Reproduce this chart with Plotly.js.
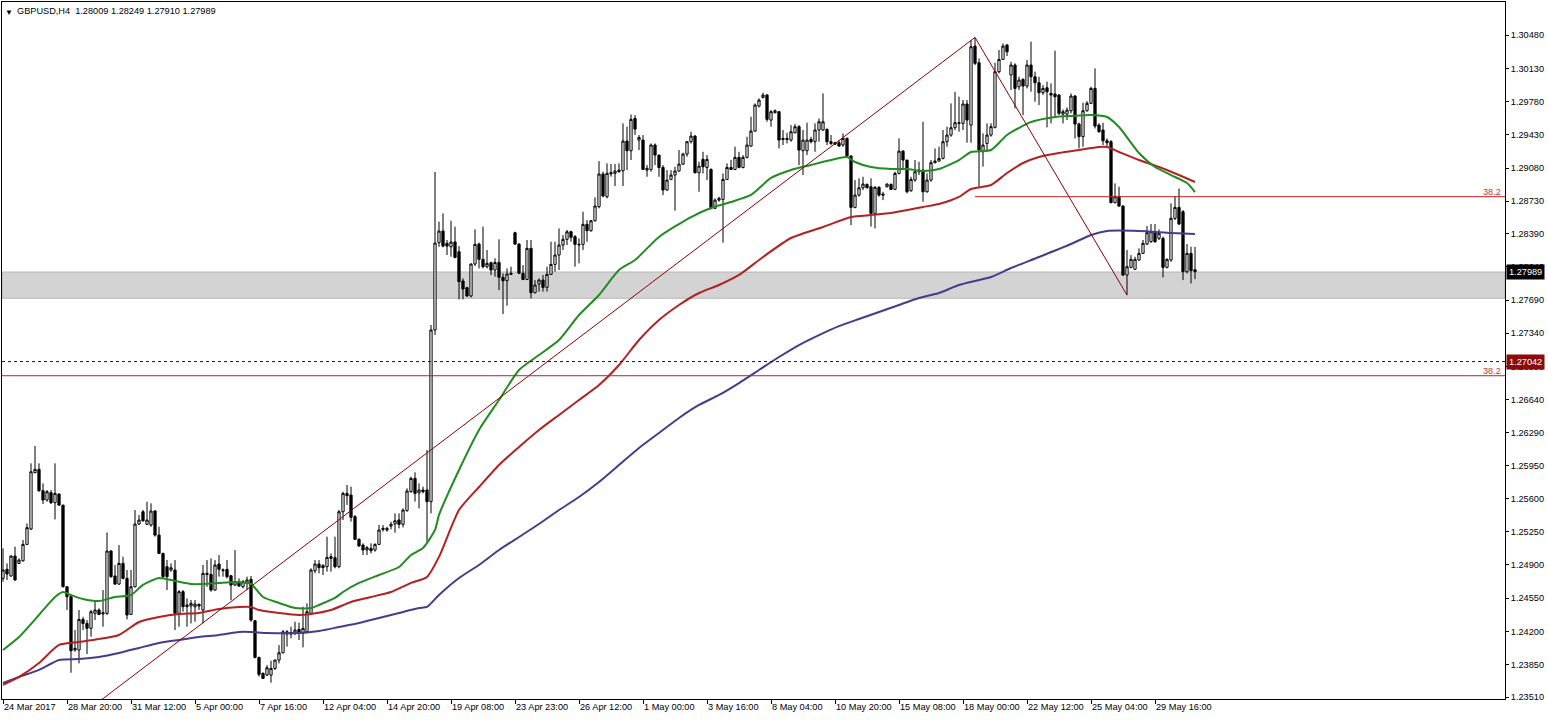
<!DOCTYPE html>
<html><head><meta charset="utf-8">
<script src="https://cdn.plot.ly/plotly-3.0.1.min.js"></script>
<style>html,body{margin:0;padding:0;background:#fff;}#chart{width:1548px;height:720px;}</style>
</head><body><div id="chart"></div>
<script>
const symbolTitle = "GBPUSD,H4\u00a0\u00a01.28009 1.28249 1.27910 1.27989";

const openP = [
1.24759,1.24854,1.24784,1.24994,1.24917,1.24945,1.25117,1.25279,1.25872,1.25907,
1.25682,1.25584,1.25661,1.25556,1.25647,1.25531,1.24671,1.24566,1.24005,1.24005,
1.24327,1.24285,1.24233,1.24391,1.24426,1.24384,1.24391,1.25047,1.24784,1.24699,
1.24917,1.24759,1.24380,1.24671,1.25331,1.25461,1.25328,1.25321,1.25468,1.25215,
1.25022,1.24882,1.24847,1.24847,1.24391,1.24619,1.24461,1.24468,1.24461,1.24485,
1.24426,1.24812,1.24801,1.24636,1.24910,1.24840,1.24854,1.24787,1.24689,1.24724,
1.24671,1.24706,1.24749,1.24313,1.23927,1.23759,1.23741,1.23741,1.23811,1.23899,
1.23976,1.24173,1.24190,1.24180,1.24222,1.24180,1.24198,1.24391,1.24840,1.24910,
1.24893,1.24882,1.24987,1.24977,1.24882,1.25461,1.25654,1.25637,1.25409,1.25170,
1.25110,1.25058,1.25075,1.25058,1.25117,1.25286,1.25268,1.25310,1.25331,1.25374,
1.25328,1.25472,1.25672,1.25812,1.25661,1.25690,1.25690,1.25567,1.27374,1.28294,
1.28416,1.28287,1.28251,1.28301,1.28199,1.27890,1.27820,1.27732,1.28069,1.28279,
1.28118,1.28041,1.28083,1.28006,1.28086,1.27929,1.27893,1.27960,1.28399,1.28279,
1.27971,1.27907,1.28234,1.27767,1.27858,1.27900,1.27823,1.27960,1.28065,1.28164,
1.28269,1.28329,1.28409,1.28357,1.28269,1.28276,1.28487,1.28420,1.28525,1.28673,
1.29017,1.28778,1.29017,1.29024,1.29041,1.29051,1.29364,1.29262,1.29602,1.29374,
1.29374,1.29058,1.29065,1.29322,1.29216,1.29086,1.28848,1.28960,1.29006,1.29048,
1.29121,1.29227,1.29357,1.29416,1.29030,1.29171,1.29086,1.29065,1.28655,1.28742,
1.28749,1.28960,1.29086,1.29065,1.29192,1.29086,1.29192,1.29311,1.29469,1.29732,
1.29823,1.29848,1.29585,1.29662,1.29673,1.29392,1.29392,1.29374,1.29451,1.29515,
1.29262,1.29262,1.29381,1.29357,1.29480,1.29480,1.29487,1.29357,1.29346,1.29346,
1.29322,1.29392,1.29206,1.28665,1.28795,1.28872,1.28907,1.28883,1.28602,1.28876,
1.28806,1.28883,1.28907,1.28855,1.29023,1.29258,1.29164,1.28841,1.28953,1.29041,
1.29058,1.28830,1.28953,1.29136,1.29153,1.29181,1.29357,1.29427,1.29504,1.29557,
1.29550,1.29754,1.29532,1.30364,1.30189,1.29252,1.29339,1.29427,1.29508,1.30094,
1.30224,1.30375,1.30059,1.30164,1.29936,1.30013,1.29943,1.30164,1.30041,1.29978,
1.29873,1.29925,1.29866,1.29859,1.29848,1.29648,1.29648,1.29683,1.29838,1.29543,
1.29410,1.29683,1.29761,1.29918,1.29532,1.29480,1.29367,1.29357,1.28715,1.28778,
1.28679,1.27953,1.28034,1.28013,1.28111,1.28181,1.28279,1.28304,1.28409,1.28339,
1.28339,1.28034,1.28111,1.28550,1.28665,1.28620,1.27988,1.28181,1.28009];

const highP = [
1.25075,1.24917,1.25005,1.25093,1.24970,1.25163,1.25338,1.25970,1.26153,1.25970,
1.25759,1.25689,1.25689,1.25970,1.25654,1.25531,1.24678,1.24584,1.24215,1.24426,
1.24355,1.24320,1.24426,1.24531,1.24443,1.24636,1.25243,1.25057,1.24900,1.25110,
1.24987,1.24847,1.24847,1.25479,1.25426,1.25479,1.25566,1.25549,1.25479,1.25303,
1.25029,1.24952,1.24917,1.24952,1.24636,1.24636,1.24548,1.24531,1.24531,1.24496,
1.24900,1.24952,1.24970,1.24952,1.25005,1.24864,1.24952,1.24794,1.25057,1.24759,
1.24742,1.24777,1.24784,1.24320,1.23934,1.23769,1.23846,1.23892,1.23906,1.24057,
1.24215,1.24215,1.24250,1.24303,1.24293,1.24461,1.24496,1.24865,1.24952,1.24952,
1.24910,1.25198,1.25022,1.25198,1.25479,1.25672,1.25742,1.25725,1.25426,1.25181,
1.25128,1.25100,1.25128,1.25128,1.25321,1.25321,1.25303,1.25356,1.25444,1.25444,
1.25496,1.25707,1.25830,1.25876,1.25760,1.25725,1.26111,1.27427,1.29038,1.28515,
1.28602,1.28322,1.28525,1.28462,1.28258,1.27918,1.27830,1.28076,1.28434,1.28294,
1.28462,1.28216,1.28093,1.28129,1.28329,1.27971,1.28023,1.28041,1.28409,1.28287,
1.28058,1.28322,1.28322,1.27900,1.27918,1.27953,1.28041,1.28304,1.28304,1.28444,
1.28374,1.28427,1.28420,1.28374,1.28339,1.28620,1.28532,1.28532,1.28771,1.29153,
1.29041,1.29129,1.29122,1.29122,1.29129,1.29550,1.29515,1.29644,1.29637,1.29427,
1.29427,1.29111,1.29339,1.29339,1.29216,1.29111,1.29058,1.29058,1.29093,1.29269,
1.29241,1.29364,1.29462,1.29427,1.29146,1.29251,1.29216,1.29076,1.28760,1.28778,
1.29023,1.29129,1.29164,1.29304,1.29251,1.29216,1.29409,1.29620,1.29760,1.29813,
1.29873,1.29859,1.29690,1.29697,1.29680,1.29480,1.29451,1.29532,1.29543,1.29532,
1.29480,1.29557,1.29409,1.29550,1.29602,1.29866,1.29497,1.29427,1.29357,1.29374,
1.29444,1.29402,1.29216,1.28953,1.28971,1.28988,1.28918,1.28971,1.28890,1.28890,
1.28830,1.28918,1.28918,1.29041,1.29392,1.29269,1.29164,1.28988,1.29164,1.29146,
1.29567,1.29023,1.29164,1.29286,1.29304,1.29480,1.29515,1.29760,1.29883,1.29831,
1.29796,1.29796,1.30427,1.30455,1.30234,1.29445,1.29550,1.29550,1.30189,1.30322,
1.30392,1.30385,1.30199,1.30182,1.30041,1.30024,1.30217,1.30410,1.30094,1.30041,
1.29954,1.29989,1.29971,1.30315,1.29859,1.29697,1.29718,1.29866,1.29848,1.29557,
1.29768,1.29785,1.29936,1.30129,1.29550,1.29557,1.29392,1.29374,1.28918,1.28883,
1.28690,1.28216,1.28163,1.28146,1.28234,1.28322,1.28469,1.28490,1.28490,1.28434,
1.28357,1.28128,1.28708,1.28785,1.28865,1.28637,1.28279,1.28251,1.28249];

const lowP = [
1.24724,1.24742,1.24777,1.24735,1.24910,1.24935,1.25110,1.25268,1.25865,1.25672,
1.25542,1.25566,1.25542,1.25380,1.25521,1.24664,1.24426,1.23766,1.23987,1.23864,
1.24215,1.23962,1.24145,1.24320,1.24373,1.24250,1.24373,1.24766,1.24689,1.24689,
1.24749,1.24327,1.24373,1.24664,1.25321,1.25356,1.25321,1.25303,1.25198,1.25015,
1.24759,1.24636,1.24829,1.24215,1.24250,1.24408,1.24250,1.24285,1.24303,1.24426,
1.24285,1.24671,1.24619,1.24629,1.24777,1.24777,1.24759,1.24531,1.24678,1.24671,
1.24654,1.24636,1.24303,1.23917,1.23724,1.23706,1.23731,1.23660,1.23794,1.23864,
1.23969,1.24040,1.24127,1.24162,1.24110,1.24033,1.24180,1.24373,1.24812,1.24812,
1.24794,1.24830,1.24830,1.24865,1.24865,1.25374,1.25532,1.25356,1.25163,1.25093,
1.25005,1.25005,1.25022,1.25040,1.25110,1.25251,1.25251,1.25275,1.25240,1.25286,
1.25296,1.25461,1.25661,1.25567,1.25496,1.25654,1.25145,1.25444,1.27321,1.28251,
1.28244,1.28164,1.28146,1.28129,1.27697,1.27697,1.27725,1.27718,1.28048,1.28023,
1.28023,1.28023,1.27953,1.27936,1.27795,1.27542,1.27630,1.27953,1.28269,1.27964,
1.27900,1.27900,1.27707,1.27760,1.27778,1.27778,1.27778,1.27953,1.27988,1.28006,
1.28216,1.28269,1.28304,1.28041,1.28076,1.28216,1.28304,1.28409,1.28515,1.28655,
1.28771,1.28760,1.28989,1.28890,1.29030,1.28890,1.29058,1.29164,1.29427,1.29269,
1.29058,1.28988,1.29041,1.29111,1.28988,1.28795,1.28841,1.28953,1.28630,1.29041,
1.29111,1.29199,1.29339,1.29023,1.28830,1.29023,1.28953,1.28644,1.28655,1.28725,
1.28293,1.28953,1.29058,1.29058,1.29076,1.29076,1.29181,1.29304,1.29462,1.29718,
1.29813,1.29567,1.29515,1.29655,1.29286,1.29322,1.29339,1.29357,1.29444,1.29111,
1.29006,1.29216,1.29339,1.29251,1.29357,1.29472,1.29322,1.29322,1.29322,1.29304,
1.29304,1.29199,1.28479,1.28655,1.28778,1.28848,1.28865,1.28462,1.28444,1.28778,
1.28742,1.28876,1.28848,1.28848,1.29013,1.29076,1.28813,1.28830,1.28935,1.29006,
1.28725,1.28820,1.28935,1.29129,1.29146,1.29171,1.29304,1.29409,1.29480,1.29462,
1.29480,1.29346,1.29346,1.30164,1.28883,1.29094,1.29252,1.29410,1.29497,1.30076,
1.30217,1.30259,1.29901,1.29708,1.29901,1.29638,1.29918,1.29883,1.29778,1.29743,
1.29848,1.29508,1.29550,1.29620,1.29638,1.29550,1.29585,1.29655,1.29392,1.29287,
1.29304,1.29673,1.29754,1.29497,1.29452,1.29322,1.29311,1.28708,1.28708,1.28672,
1.27942,1.27742,1.28023,1.28006,1.28104,1.28174,1.28269,1.28293,1.28293,1.28322,
1.27928,1.28023,1.28093,1.28532,1.28479,1.27900,1.27970,1.27865,1.27910];

const closeP = [
1.24847,1.24805,1.24994,1.24742,1.24952,1.25117,1.25293,1.25882,1.25907,1.25682,
1.25584,1.25672,1.25556,1.25654,1.25531,1.24671,1.24566,1.23997,1.24022,1.24327,
1.24285,1.24233,1.24408,1.24426,1.24380,1.24398,1.25047,1.24777,1.24699,1.24917,
1.24759,1.24373,1.24671,1.25331,1.25373,1.25366,1.25373,1.25468,1.25215,1.25022,
1.24777,1.24777,1.24871,1.24391,1.24619,1.24461,1.24478,1.24496,1.24489,1.24468,
1.24812,1.24801,1.24636,1.24900,1.24854,1.24847,1.24777,1.24689,1.24724,1.24678,
1.24724,1.24742,1.24320,1.23927,1.23748,1.23706,1.23818,1.23811,1.23899,1.23976,
1.24197,1.24197,1.24173,1.24215,1.24180,1.24233,1.24408,1.24847,1.24910,1.24872,
1.24872,1.24980,1.24970,1.24882,1.25461,1.25654,1.25630,1.25402,1.25170,1.25100,
1.25058,1.25082,1.25051,1.25117,1.25268,1.25275,1.25286,1.25328,1.25366,1.25328,
1.25479,1.25679,1.25812,1.25654,1.25690,1.25672,1.25567,1.27374,1.28290,1.28416,
1.28258,1.28258,1.28301,1.28139,1.27883,1.27806,1.27732,1.28069,1.28276,1.28118,
1.28041,1.28076,1.28006,1.28086,1.27929,1.27893,1.27964,1.27971,1.28279,1.27971,
1.27907,1.28234,1.27767,1.27848,1.27900,1.27823,1.27960,1.28065,1.28164,1.28269,
1.28329,1.28409,1.28350,1.28276,1.28276,1.28487,1.28420,1.28525,1.28680,1.29017,
1.28785,1.29024,1.29031,1.29048,1.29058,1.29364,1.29262,1.29592,1.29490,1.29402,
1.29065,1.29076,1.29322,1.29216,1.29086,1.28848,1.28953,1.29006,1.29048,1.29121,
1.29227,1.29357,1.29416,1.29030,1.29100,1.29093,1.29171,1.28655,1.28742,1.28760,
1.28960,1.29086,1.29065,1.29192,1.29086,1.29192,1.29322,1.29469,1.29743,1.29795,
1.29848,1.29592,1.29673,1.29683,1.29374,1.29381,1.29381,1.29462,1.29515,1.29269,
1.29374,1.29374,1.29357,1.29480,1.29567,1.29567,1.29357,1.29339,1.29332,1.29311,
1.29392,1.29206,1.28665,1.28795,1.28872,1.28911,1.28872,1.28602,1.28876,1.28795,
1.28795,1.28911,1.28855,1.29023,1.29258,1.29164,1.28830,1.28960,1.29041,1.29058,
1.28830,1.28953,1.29136,1.29153,1.29181,1.29357,1.29427,1.29504,1.29557,1.29550,
1.29754,1.29585,1.30357,1.30182,1.29269,1.29322,1.29427,1.29515,1.30094,1.30224,
1.30364,1.30304,1.30164,1.29918,1.30006,1.29943,1.30164,1.30041,1.29978,1.29873,
1.29918,1.29883,1.29848,1.29831,1.29655,1.29673,1.29690,1.29838,1.29543,1.29410,
1.29683,1.29761,1.29918,1.29522,1.29462,1.29367,1.29346,1.28715,1.28778,1.28679,
1.27953,1.28041,1.28118,1.28118,1.28181,1.28287,1.28399,1.28409,1.28304,1.28392,
1.28034,1.28118,1.28550,1.28665,1.28490,1.27988,1.28181,1.27998,1.27989];

// moving averages read at sampled bars (bar index, price)
const maFastIdx = [0,4,9,13,15,17,20,24,28,32,35,39,43,47,50,54,58,62,65,69,73,77,79,83,85,89,94,99,102,105,108,109,114,119,124,129,134,139,144,149,154,158,164,172,177,182,187,192,197,202,207,211,213,217,222,226,230,234,239,242,247,251,257,263,267,272,276,279,284,288,292,296,298];
const maFastVal = [1.24005,1.24142,1.24374,1.24563,1.24616,1.24584,1.24542,1.24521,1.24563,1.24584,1.24690,1.24763,1.24732,1.24700,1.24700,1.24711,1.24721,1.24700,1.24563,1.24500,1.24447,1.24447,1.24479,1.24553,1.24616,1.24711,1.24795,1.24879,1.25005,1.25079,1.25269,1.25427,1.25900,1.26322,1.26637,1.26953,1.27111,1.27269,1.27532,1.27743,1.28006,1.28111,1.28354,1.28564,1.28659,1.28722,1.28796,1.28975,1.29059,1.29112,1.29164,1.29196,1.29143,1.29091,1.29070,1.29070,1.29048,1.29070,1.29164,1.29249,1.29270,1.29428,1.29564,1.29617,1.29628,1.29638,1.29617,1.29512,1.29238,1.29091,1.29006,1.28922,1.28827];
const maMidIdx = [0,4,9,14,19,24,29,34,39,44,49,54,59,62,64,69,74,77,82,87,92,97,102,106,109,114,119,124,129,134,139,144,149,154,159,164,169,174,179,184,190,197,205,212,217,222,230,234,239,242,247,251,255,259,264,269,274,276,279,284,289,294,298];
const maMidVal = [1.23637,1.23721,1.23868,1.24058,1.24089,1.24121,1.24163,1.24300,1.24353,1.24384,1.24395,1.24437,1.24458,1.24458,1.24426,1.24395,1.24374,1.24384,1.24426,1.24511,1.24563,1.24616,1.24711,1.24774,1.24985,1.25479,1.25721,1.25953,1.26143,1.26322,1.26480,1.26637,1.26795,1.27006,1.27269,1.27480,1.27638,1.27764,1.27848,1.27954,1.28143,1.28343,1.28459,1.28564,1.28585,1.28606,1.28670,1.28701,1.28775,1.28859,1.28901,1.29027,1.29133,1.29196,1.29238,1.29270,1.29301,1.29301,1.29249,1.29164,1.29091,1.29006,1.28933];
const maSlowIdx = [0,4,9,14,19,24,29,34,39,44,49,54,59,62,66,74,79,84,89,94,99,104,106,109,114,119,124,129,134,139,144,149,154,159,164,169,174,179,184,189,194,199,204,209,214,219,224,229,234,239,247,252,259,267,272,276,284,292,298];
const maSlowVal = [1.23658,1.23721,1.23795,1.23900,1.23910,1.23932,1.23974,1.24027,1.24079,1.24111,1.24142,1.24163,1.24195,1.24195,1.24184,1.24184,1.24205,1.24247,1.24290,1.24342,1.24395,1.24447,1.24458,1.24584,1.24763,1.24900,1.25058,1.25195,1.25332,1.25479,1.25616,1.25774,1.25953,1.26132,1.26290,1.26448,1.26585,1.26690,1.26816,1.26953,1.27090,1.27216,1.27321,1.27415,1.27490,1.27564,1.27638,1.27711,1.27764,1.27848,1.27933,1.28027,1.28143,1.28280,1.28375,1.28417,1.28417,1.28396,1.28385];

const dateTickIndex = [0,16,32,48,64,80,96,112,128,144,160,176,192,208,224,240,256,272,288];
const dateTickText = ["24 Mar 2017","28 Mar 20:00","31 Mar 12:00","5 Apr 00:00","7 Apr 16:00","12 Apr 04:00","14 Apr 20:00","19 Apr 08:00","23 Apr 23:00","26 Apr 12:00","1 May 00:00","3 May 16:00","8 May 04:00","10 May 20:00","15 May 08:00","18 May 00:00","22 May 12:00","25 May 04:00","29 May 16:00"];
const priceTicks = [1.30480,1.30130,1.29780,1.29430,1.29080,1.28730,1.28390,1.28040,1.27690,1.27340,1.26990,1.26640,1.26290,1.25950,1.25600,1.25250,1.24900,1.24550,1.24200,1.23850,1.23510];

// drawn objects
const zoneTop = 1.27985, zoneBottom = 1.27708;
const fib1X = [-49, 243], fib1Y = [1.21130, 1.30455], fib1Level = 1.26893;
const fib2X = [243, 281], fib2Y = [1.30455, 1.27742], fib2Level = 1.28778;
const fibLabel = "38.2";
const bidPrice = 1.27989;
const hLinePrice = 1.27042;

const xRange = [-0.25, 375.5];
const yRange = [1.23489, 1.30828];

const idx = openP.map((_, i) => i);
const FONT = "'Liberation Sans',Arial,sans-serif";
const FS = 9.2;

const traces = [
  {type:'candlestick', x:idx, open:openP, high:highP, low:lowP, close:closeP,
   increasing:{line:{color:'#000000',width:1}, fillcolor:'#ffffff'},
   decreasing:{line:{color:'#000000',width:1}, fillcolor:'#000000'},
   whiskerwidth:0, hoverinfo:'skip', showlegend:false},
  {type:'scatter', mode:'lines', x:maSlowIdx, y:maSlowVal, line:{color:'#463c8c',width:2,shape:'spline',smoothing:0.6}, hoverinfo:'skip'},
  {type:'scatter', mode:'lines', x:maMidIdx, y:maMidVal, line:{color:'#b22222',width:2,shape:'spline',smoothing:0.6}, hoverinfo:'skip'},
  {type:'scatter', mode:'lines', x:maFastIdx, y:maFastVal, line:{color:'#228b22',width:2,shape:'spline',smoothing:0.6}, hoverinfo:'skip'},
  {type:'scatter', mode:'lines', x:fib1X, y:fib1Y, line:{color:'#8b0000',width:1}, hoverinfo:'skip'},
  {type:'scatter', mode:'lines', x:fib2X, y:fib2Y, line:{color:'#8b0000',width:1}, hoverinfo:'skip'},
  {type:'scatter', mode:'lines', x:[fib1X[0], xRange[1]], y:[fib1Level, fib1Level], line:{color:'#c02020',width:1}, hoverinfo:'skip'},
  {type:'scatter', mode:'lines', x:[fib2X[0], xRange[1]], y:[fib2Level, fib2Level], line:{color:'#c02020',width:1}, hoverinfo:'skip'}
];

const annotations = [];
annotations.push({xref:'paper', yref:'paper', x:0, y:1, xanchor:'left', yanchor:'top', xshift:1, yshift:-4,
  text:'\u25BC', showarrow:false, font:{family:FONT, size:8, color:'#000'}});
annotations.push({xref:'paper', yref:'paper', x:0, y:1, xanchor:'left', yanchor:'top', xshift:13, yshift:-2,
  text:symbolTitle, showarrow:false, font:{family:FONT, size:FS, color:'#000'}});
dateTickIndex.forEach((v, k) => {
  annotations.push({xref:'x', yref:'paper', x:v, y:0, xanchor:'left', yanchor:'top', xshift:-1, yshift:-1,
    text:dateTickText[k], showarrow:false, font:{family:FONT, size:FS, color:'#000'}});
});
annotations.push({xref:'paper', yref:'y', x:1, y:fib2Level, xanchor:'right', yanchor:'bottom', xshift:-2, yshift:-2,
  text:fibLabel, showarrow:false, font:{family:FONT, size:FS, color:'#c83232'}});
annotations.push({xref:'paper', yref:'y', x:1, y:fib1Level, xanchor:'right', yanchor:'bottom', xshift:-2, yshift:-2,
  text:fibLabel, showarrow:false, font:{family:FONT, size:FS, color:'#c83232'}});
annotations.push({xref:'paper', yref:'y', x:1, y:bidPrice, xanchor:'left', yanchor:'middle', xshift:1,
  text:bidPrice.toFixed(5), showarrow:false, bgcolor:'#000000', borderpad:2, font:{family:FONT, size:FS, color:'#ffffff'}});
annotations.push({xref:'paper', yref:'y', x:1, y:hLinePrice, xanchor:'left', yanchor:'middle', xshift:1,
  text:hLinePrice.toFixed(5), showarrow:false, bgcolor:'#8b0a0a', borderpad:2, font:{family:FONT, size:FS, color:'#ffffff'}});

const layout = {
  width:1548, height:720,
  margin:{l:2, r:43, t:2, b:21, pad:0},
  paper_bgcolor:'#ffffff', plot_bgcolor:'#ffffff',
  showlegend:false, hovermode:false, dragmode:false,
  boxgap:0.2,
  xaxis:{type:'linear', range:xRange, showgrid:false, zeroline:false, showline:true, mirror:true,
    linecolor:'#000', linewidth:1, ticks:'outside', ticklen:4, tickcolor:'#000', tickwidth:1,
    tickvals:dateTickIndex, showticklabels:false, rangeslider:{visible:false}, fixedrange:true},
  yaxis:{side:'right', range:yRange, showgrid:false, zeroline:false, showline:true, mirror:true,
    linecolor:'#000', linewidth:1, ticks:'outside', ticklen:3, tickcolor:'#000', tickwidth:1,
    tickvals:priceTicks, ticktext:priceTicks.map(v => v.toFixed(5)),
    tickfont:{family:FONT, size:FS, color:'#000'}, fixedrange:true},
  shapes:[
    {type:'rect', xref:'paper', yref:'y', x0:0, x1:1, y0:zoneBottom, y1:zoneTop, layer:'below',
     fillcolor:'#d3d3d3', line:{color:'#b8b8b8', width:1}},
    {type:'line', xref:'paper', yref:'y', x0:0, x1:1, y0:hLinePrice, y1:hLinePrice, layer:'above',
     line:{color:'#3a0a0a', width:1, dash:'3px,3px'}}
  ],
  annotations:annotations
};

Plotly.newPlot('chart', traces, layout, {staticPlot:true, displayModeBar:false});
</script>
</body></html>
